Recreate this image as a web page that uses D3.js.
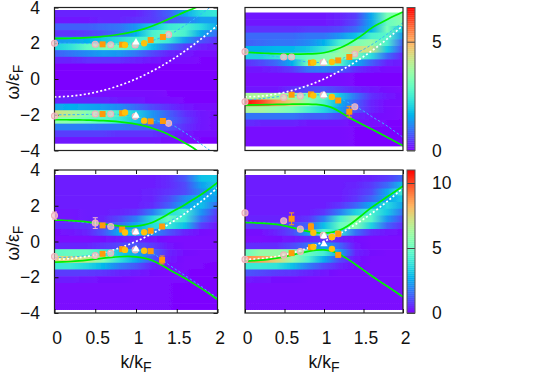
<!DOCTYPE html>
<html>
<head>
<meta charset="utf-8">
<style>
  html, body { margin: 0; background: #fff; }
  svg { display: block; }
  text { font-family: "Liberation Sans", Arial, sans-serif; fill: #111; }
</style>
<script src="https://cdn.jsdelivr.net/npm/d3@7"></script>
</head>
<body>
<div id="chart"></div>
<script>
// k samples of the intensity maps, one row per omega band (top to bottom)
const heatK = [0, 0.2, 0.4, 0.6, 0.8, 1.0, 1.2, 1.4, 1.6, 1.8, 2.0];

const heatA = [
  [0.3, 0.3, 0.3, 0.3, 0.3, 0.3, 0.5, 0.8, 1.5, 2.2, 2.4],
  [0.2, 0.2, 0.2, 0.3, 0.3, 0.4, 0.5, 0.7, 1.0, 1.4, 1.4],
  [0.8, 0.8, 0.8, 0.9, 1.0, 1.3, 1.9, 2.4, 2.6, 2.2, 1.5],
  [0.4, 0.4, 0.5, 0.7, 1.0, 1.6, 2.6, 3.0, 2.6, 1.5, 0.9],
  [1.3, 1.4, 1.6, 1.9, 2.2, 2.6, 2.8, 2.4, 1.4, 0.7, 0.4],
  [2.0, 2.3, 2.9, 3.2, 3.1, 2.6, 1.8, 1.0, 0.5, 0.3, 0.2],
  [0.8, 1.0, 1.2, 1.4, 1.3, 1.0, 0.6, 0.3, 0.2, 0.1, 0.1],
  [0.3, 0.3, 0.4, 0.4, 0.4, 0.3, 0.2, 0.1, 0.1, 0.05, 0.05],
  [0.05, 0.05, 0.05, 0.05, 0.05, 0.05, 0.05, 0.05, 0.05, 0.05, 0.05],
  [0.05, 0.05, 0.05, 0.05, 0.05, 0.05, 0.05, 0.05, 0.05, 0.05, 0.05],
  [0.05, 0.05, 0.05, 0.05, 0.05, 0.05, 0.05, 0.05, 0.05, 0.05, 0.05],
  [0.05, 0.05, 0.05, 0.05, 0.05, 0.05, 0.05, 0.05, 0.05, 0.05, 0.05],
  [0.1, 0.1, 0.1, 0.1, 0.1, 0.1, 0.1, 0.05, 0.05, 0.05, 0.05],
  [0.3, 0.3, 0.3, 0.3, 0.2, 0.2, 0.1, 0.1, 0.05, 0.05, 0.05],
  [1.5, 1.6, 1.5, 1.4, 1.2, 0.9, 0.6, 0.4, 0.2, 0.1, 0.1],
  [4.4, 4.0, 3.4, 3.0, 2.6, 2.0, 1.3, 0.8, 0.4, 0.2, 0.1],
  [3.5, 3.4, 3.1, 2.8, 2.4, 1.9, 1.3, 0.9, 0.5, 0.2, 0.1],
  [1.1, 1.1, 1.1, 1.0, 1.0, 0.9, 0.8, 0.7, 0.4, 0.2, 0.1],
  [0.5, 0.5, 0.5, 0.5, 0.4, 0.4, 0.4, 0.3, 0.2, 0.1, 0.1],
  [0.2, 0.2, 0.2, 0.2, 0.2, 0.2, 0.2, 0.1, 0.1, 0.05, 0.05]
];

const heatB = [
  [0.2, 0.2, 0.2, 0.2, 0.2, 0.2, 0.3, 0.5, 1.5, 3.2, 3.5],
  [0.2, 0.2, 0.2, 0.2, 0.2, 0.2, 0.3, 0.6, 1.5, 3.0, 3.4],
  [0.4, 0.4, 0.4, 0.4, 0.5, 0.5, 0.6, 0.9, 1.6, 3.2, 1.9],
  [0.9, 0.9, 0.9, 0.9, 1.0, 1.0, 1.3, 1.8, 2.6, 2.8, 1.3],
  [0.8, 0.9, 1.0, 1.0, 1.2, 1.6, 2.6, 3.2, 3.6, 2.6, 0.8],
  [1.6, 1.6, 1.7, 1.7, 1.9, 2.4, 3.5, 4.4, 4.2, 1.9, 0.6],
  [2.0, 2.0, 2.3, 2.6, 3.0, 3.3, 3.6, 3.3, 2.2, 0.9, 0.3],
  [0.4, 0.6, 0.9, 1.6, 3.2, 3.5, 2.8, 1.6, 0.8, 0.3, 0.2],
  [0.2, 0.2, 0.3, 0.5, 1.0, 1.1, 0.8, 0.4, 0.2, 0.1, 0.1],
  [0.1, 0.1, 0.1, 0.1, 0.1, 0.1, 0.1, 0.05, 0.05, 0.05, 0.05],
  [0.1, 0.1, 0.1, 0.1, 0.1, 0.1, 0.1, 0.05, 0.05, 0.05, 0.05],
  [0.2, 0.2, 0.2, 0.4, 0.6, 0.7, 0.5, 0.3, 0.2, 0.1, 0.05],
  [3.8, 3.9, 3.8, 3.6, 3.2, 2.9, 1.9, 1.0, 0.4, 0.2, 0.1],
  [6.5, 6.0, 5.2, 4.4, 3.5, 2.6, 1.6, 0.8, 0.3, 0.1, 0.1],
  [3.8, 3.8, 3.5, 3.2, 2.6, 2.1, 1.4, 0.7, 0.3, 0.1, 0.05],
  [1.0, 1.0, 1.0, 1.0, 0.8, 0.8, 0.6, 0.3, 0.15, 0.1, 0.05],
  [0.4, 0.3, 0.3, 0.3, 0.2, 0.2, 0.2, 0.1, 0.1, 0.05, 0.05],
  [0.1, 0.1, 0.1, 0.1, 0.1, 0.1, 0.1, 0.05, 0.05, 0.05, 0.05],
  [0.1, 0.1, 0.1, 0.1, 0.1, 0.1, 0.1, 0.05, 0.05, 0.05, 0.05],
  [0.1, 0.1, 0.1, 0.1, 0.1, 0.1, 0.1, 0.05, 0.05, 0.05, 0.05]
];

const heatC = [
  [0.4, 0.4, 0.4, 0.4, 0.4, 0.4, 0.4, 0.6, 1.2, 3.0, 3.2],
  [0.4, 0.4, 0.4, 0.4, 0.4, 0.4, 0.4, 0.6, 1.0, 2.4, 3.2],
  [0.4, 0.4, 0.4, 0.4, 0.4, 0.4, 0.5, 0.7, 1.0, 2.0, 2.8],
  [0.4, 0.4, 0.4, 0.4, 0.4, 0.4, 0.5, 1.0, 2.0, 2.8, 2.2],
  [0.4, 0.4, 0.4, 0.4, 0.4, 0.4, 0.6, 1.3, 2.5, 3.0, 1.5],
  [0.3, 0.3, 0.4, 0.4, 0.5, 0.7, 1.8, 3.6, 4.2, 2.2, 0.8],
  [0.3, 0.3, 0.4, 0.5, 1.0, 1.8, 3.6, 5.0, 4.0, 1.6, 0.6],
  [0.6, 0.6, 0.7, 0.9, 1.5, 2.6, 3.6, 4.0, 3.0, 0.9, 0.3],
  [0.2, 0.3, 0.5, 1.2, 2.6, 3.2, 2.2, 1.2, 0.5, 0.2, 0.1],
  [0.1, 0.1, 0.1, 0.2, 0.4, 0.6, 0.3, 0.1, 0.1, 0.1, 0.1],
  [0.5, 0.5, 0.5, 0.7, 1.0, 1.2, 0.8, 0.3, 0.1, 0.1, 0.1],
  [4.8, 5.0, 5.0, 4.2, 3.2, 2.6, 1.6, 0.5, 0.2, 0.1, 0.1],
  [7.5, 7.5, 7.0, 5.5, 3.8, 2.6, 1.2, 0.4, 0.1, 0.1, 0.1],
  [4.0, 4.0, 3.5, 2.8, 1.8, 1.2, 0.5, 0.2, 0.1, 0.1, 0.05],
  [0.8, 0.8, 0.8, 0.7, 0.5, 0.4, 0.2, 0.1, 0.1, 0.05, 0.05],
  [0.4, 0.4, 0.3, 0.2, 0.2, 0.1, 0.1, 0.1, 0.1, 0.05, 0.05],
  [0.1, 0.1, 0.1, 0.1, 0.1, 0.1, 0.1, 0.1, 0.05, 0.05, 0.05],
  [0.1, 0.1, 0.1, 0.1, 0.1, 0.1, 0.1, 0.1, 0.05, 0.05, 0.05],
  [0.1, 0.1, 0.1, 0.1, 0.1, 0.1, 0.1, 0.1, 0.05, 0.05, 0.05],
  [0.1, 0.1, 0.1, 0.1, 0.1, 0.1, 0.1, 0.1, 0.05, 0.05, 0.05]
];

const heatD = [
  [0.4, 0.4, 0.4, 0.4, 0.4, 0.4, 0.4, 0.4, 0.5, 0.8, 1.5],
  [0.4, 0.4, 0.4, 0.4, 0.4, 0.4, 0.4, 0.5, 0.8, 1.5, 3.0],
  [0.4, 0.4, 0.4, 0.4, 0.4, 0.4, 0.4, 0.6, 1.0, 2.5, 4.2],
  [0.4, 0.4, 0.4, 0.4, 0.4, 0.4, 0.4, 0.7, 1.4, 2.5, 3.2],
  [0.4, 0.4, 0.4, 0.4, 0.4, 0.4, 0.7, 1.4, 2.6, 3.6, 2.4],
  [0.4, 0.4, 0.4, 0.4, 0.4, 0.7, 1.8, 3.4, 4.4, 3.2, 1.6],
  [0.5, 0.5, 0.5, 0.5, 0.7, 1.8, 4.2, 6.0, 4.6, 2.2, 1.0],
  [0.8, 0.8, 0.8, 1.0, 1.4, 3.0, 5.0, 5.6, 3.4, 1.4, 0.6],
  [0.2, 0.2, 0.5, 1.0, 2.4, 4.6, 3.8, 1.6, 0.6, 0.3, 0.2],
  [0.1, 0.1, 0.2, 0.3, 0.6, 0.8, 0.5, 0.2, 0.1, 0.1, 0.1],
  [0.6, 0.6, 0.6, 1.0, 1.6, 2.4, 1.4, 0.3, 0.1, 0.1, 0.1],
  [5.0, 6.0, 6.0, 5.6, 5.0, 4.2, 2.4, 0.5, 0.2, 0.1, 0.1],
  [9.0, 8.6, 7.6, 6.0, 4.4, 2.6, 1.0, 0.3, 0.1, 0.1, 0.1],
  [4.0, 4.0, 3.8, 3.0, 1.8, 1.0, 0.5, 0.2, 0.1, 0.1, 0.1],
  [1.2, 1.0, 0.8, 0.7, 0.5, 0.3, 0.1, 0.1, 0.1, 0.1, 0.1],
  [0.4, 0.3, 0.2, 0.2, 0.1, 0.1, 0.1, 0.1, 0.1, 0.1, 0.1],
  [0.1, 0.1, 0.1, 0.1, 0.1, 0.1, 0.1, 0.1, 0.1, 0.1, 0.1],
  [0.1, 0.1, 0.1, 0.1, 0.1, 0.1, 0.1, 0.1, 0.1, 0.1, 0.1],
  [0.1, 0.1, 0.1, 0.1, 0.1, 0.1, 0.1, 0.1, 0.1, 0.1, 0.1],
  [0.1, 0.1, 0.1, 0.1, 0.1, 0.1, 0.1, 0.1, 0.1, 0.1, 0.1]
];

// omega extent of each map
const heatTop = [3.86, 3.72, 3.72, 3.72];
const heatBottom = [-3.62, -3.77, -3.83, -3.83];

// k samples of all the curves
const curveK = [0, 0.1, 0.2, 0.3, 0.4, 0.5, 0.6, 0.7, 0.8, 0.9, 1.0, 1.1, 1.2, 1.3, 1.4, 1.5, 1.6, 1.7, 1.8, 1.9, 2.0];

const freeBand = [-1, -0.99, -0.96, -0.91, -0.84, -0.75, -0.64, -0.51, -0.36, -0.19, 0, 0.21, 0.44, 0.69, 0.96, 1.25, 1.56, 1.89, 2.24, 2.61, 3];

const greenUpA = [2.27, 2.27, 2.28, 2.29, 2.31, 2.34, 2.38, 2.43, 2.5, 2.58, 2.68, 2.8, 2.96, 3.15, 3.35, 3.55, 3.76, 3.93, 4.12, 4.3, 4.5];
const greenLowA = [-2.28, -2.28, -2.28, -2.29, -2.3, -2.31, -2.33, -2.36, -2.4, -2.45, -2.52, -2.62, -2.75, -2.9, -3.1, -3.33, -3.58, -3.83, -4.2, -4.4, -4.6];
const dashUpA = [2, 2, 2, 1.99, 1.98, 1.97, 1.96, 1.95, 1.94, 1.94, 1.96, 2.0, 2.14, 2.3, 2.45, 2.7, 3.0, 3.3, 3.65, 3.97, 4.3];
const dashLowA = [-2, -2, -2, -1.99, -1.98, -1.97, -1.96, -1.95, -1.98, -2.05, -2.1, -2.2, -2.3, -2.38, -2.45, -2.7, -3, -3.3, -3.65, -3.97, -4.3];

const greenUpB = [1.49, 1.47, 1.45, 1.43, 1.41, 1.4, 1.39, 1.39, 1.4, 1.42, 1.45, 1.58, 1.72, 1.93, 2.2, 2.5, 2.87, 3.1, 3.33, 3.55, 3.75];
const greenLowB = [-1.46, -1.45, -1.44, -1.43, -1.42, -1.42, -1.41, -1.4, -1.4, -1.42, -1.46, -1.58, -1.82, -2.12, -2.35, -2.58, -2.8, -3.03, -3.25, -3.49, -3.73];
const dashUpB = [1.45, 1.4, 1.35, 1.3, 1.25, 1.2, 1.1, 1.0, 0.95, 0.92, 0.92, 0.98, 1.1, 1.25, 1.42, 1.65, 1.9, 2.2, 2.5, 2.85, 3.15];
const dashLowB = [-1.18, -1.15, -1.1, -1.05, -1, -0.95, -0.92, -0.9, -0.88, -0.88, -0.9, -0.97, -1.08, -1.3, -1.55, -1.78, -2.1, -2.35, -2.62, -2.95, -3.26];

const greenUpC = [1.2, 1.19, 1.17, 1.14, 1.1, 1.04, 0.98, 0.92, 0.86, 0.83, 0.85, 0.92, 1.05, 1.28, 1.55, 1.8, 2.05, 2.35, 2.62, 2.95, 3.3];
const greenLowC = [-1.15, -1.14, -1.12, -1.09, -1.04, -0.98, -0.93, -0.88, -0.85, -0.83, -0.85, -0.92, -1.05, -1.28, -1.55, -1.8, -2.05, -2.33, -2.62, -2.92, -3.25];
const dashUpC = [1.2, 1.18, 1.15, 1.1, 1.05, 0.98, 0.9, 0.8, 0.68, 0.58, 0.5, 0.5, 0.58, 0.82, 1.1, 1.35, 1.6, 1.88, 2.2, 2.6, 3.05];
const dashLowC = [-0.9, -0.89, -0.87, -0.84, -0.8, -0.75, -0.68, -0.6, -0.52, -0.47, -0.46, -0.5, -0.62, -0.95, -1.3, -1.6, -1.9, -2.2, -2.5, -2.85, -3.15];

const greenUpD = [1.06, 1.05, 1.03, 1, 0.96, 0.88, 0.78, 0.66, 0.56, 0.48, 0.45, 0.5, 0.62, 0.85, 1.18, 1.55, 1.9, 2.2, 2.5, 2.8, 3.1];
const greenLowD = [-1.1, -1.08, -1.05, -1, -0.94, -0.85, -0.75, -0.65, -0.55, -0.48, -0.45, -0.52, -0.72, -0.98, -1.28, -1.6, -1.92, -2.22, -2.5, -2.8, -3.1];
const dashUpD = [1.1, 1.09, 1.06, 1.03, 0.98, 0.9, 0.8, 0.68, 0.57, 0.46, 0.38, 0.4, 0.55, 0.85, 1.18, 1.52, 1.88, 2.2, 2.5, 2.8, 3.1];
const dashLowD = [-1.08, -1.06, -1.03, -0.98, -0.92, -0.83, -0.73, -0.63, -0.53, -0.46, -0.43, -0.5, -0.7, -0.96, -1.26, -1.58, -1.9, -2.2, -2.48, -2.78, -3.08];

// measured points, [k, omega]
const pinkA = [[0, 2.0], [0.5, 1.94], [0.69, 1.92], [0.99, 1.9], [1.4, 2.48], [0, -2.07], [0.5, -1.96], [0.69, -1.96], [0.99, -2.09], [1.4, -2.48]];
const squareA = [[0.59, 1.94], [0.83, 1.92], [1.18, 2.18], [1.33, 2.35], [0.59, -1.96], [0.83, -1.92], [1.18, -2.37], [1.33, -2.35]];
const goldA = [[0.865, 1.9], [1.1, 2.0], [0.865, -1.87], [1.1, -2.33]];
const triA = [[1, 2.05], [1, -2.05]];

const pinkB = [[0, 1.53], [0.49, 1.23], [0.59, 1.23], [0.99, 0.93], [1.39, 1.4], [0, -1.27], [0.49, -1.03], [0.7, -0.95], [0.99, -0.9], [1.39, -1.55]];
const squareB = [[0.835, 0.91], [1.18, 1.04], [1.32, 1.23], [0.59, -0.88], [0.835, -0.86], [1.18, -1.2], [1.32, -1.83]];
const goldB = [[0.865, 0.93], [1.1, 0.95], [0.865, -0.93], [1.1, -1.0]];
const triB = [[1, 0.93], [1, -0.9]];

const pinkC = [[0, 1.45], [0.5, 1.03], [0.69, 0.84], [0.99, 0.54], [0, -0.84], [0.5, -0.78], [0.69, -0.65], [0.99, -0.47]];
const squareC = [[0.59, 0.9], [0.83, 0.67], [1.18, 0.6], [1.32, 0.84], [0.59, -0.69], [0.83, -0.43], [1.18, -0.54], [1.32, -1.03]];
const goldC = [[0.865, 0.5], [1.1, 0.52], [0.865, -0.47], [1.1, -0.52]];
const triC = [[1, 0.52], [1, -0.43]];

const pinkD = [[0, 1.6], [0.49, 1.16], [0.7, 0.69], [0.99, 0.34], [1.1, 0.26], [1.18, 0.43], [0, -1.0], [0.49, -0.75], [0.7, -0.56]];
const squareD = [[0.59, 1.27], [0.835, 0.82], [1.18, 0.43], [0.59, -0.65], [0.835, -0.32], [1.18, -0.75]];
const goldD = [[0.865, 0.49], [1.1, 0.25], [0.865, -0.3], [1.1, -0.41]];
const triD = [[1, 0.3], [1, -0.15]];

// error bars, [k, omega, +-]
const errOrange = [[], [[1.32, -1.83, 0.3]], [[1.32, -1.03, 0.22]], [[0.59, 1.27, 0.33], [0.835, 0.82, 0.2]]];
const errPink = [[], [], [[0.5, 1.03, 0.3], [0, 1.45, 0.2]], []];

const kTicks = [0, 0.5, 1, 1.5, 2];
const wTicks = [-4, -2, 0, 2, 4];

const width = 545;
const height = 382;
const fontSize = 17.5;
const fontFamily = '"Liberation Sans", Arial, sans-serif';

const panels = [
  { left: 54.5, right: 217.5, top: 7.5, bottom: 150.5, heat: heatA, green: [greenUpA, greenLowA], dash: [dashUpA, dashLowA], pink: pinkA, square: squareA, gold: goldA, tri: triA, yTicks: true, xTicks: false },
  { left: 245, right: 403, top: 7.5, bottom: 150.5, heat: heatB, green: [greenUpB, greenLowB], dash: [dashUpB, dashLowB], pink: pinkB, square: squareB, gold: goldB, tri: triB, yTicks: false, xTicks: false },
  { left: 54.5, right: 217.5, top: 170, bottom: 313, heat: heatC, green: [greenUpC, greenLowC], dash: [dashUpC, dashLowC], pink: pinkC, square: squareC, gold: goldC, tri: triC, yTicks: true, xTicks: true },
  { left: 245, right: 403, top: 170, bottom: 313, heat: heatD, green: [greenUpD, greenLowD], dash: [dashUpD, dashLowD], pink: pinkD, square: squareD, gold: goldD, tri: triD, yTicks: false, xTicks: true }
];

const colorbars = [
  { top: 7.5, bottom: 150.5, max: 6.57, ticks: [0, 5] },
  { top: 170, bottom: 313, max: 11, ticks: [0, 5, 10] }
];

// gnuplot rgbformulae 33,13,10
const palette = (t) => {
  const r = Math.min(1, Math.abs(2 * t - 0.5));
  const g = Math.sin(Math.PI * t);
  const b = Math.max(0, Math.cos((Math.PI / 2) * t));
  return d3.rgb(r * 255, g * 255, b * 255).formatHex();
};

const errorBar = (x, y) => (d) => {
  const px = x(d[0]);
  return `M${px - 2.5},${y(d[1] + d[2])}H${px + 2.5}M${px},${y(d[1] + d[2])}V${y(d[1] - d[2])}M${px - 2.5},${y(d[1] - d[2])}H${px + 2.5}`;
};

const svg = d3
  .select('#chart')
  .append('svg')
  .attr('width', width)
  .attr('height', height)
  .attr('viewBox', [0, 0, width, height]);

const defs = svg.append('defs');

// soft band edges, the map was rescaled in the original
defs
  .append('filter')
  .attr('id', 'soft')
  .attr('x', '-2%')
  .attr('y', '-2%')
  .attr('width', '104%')
  .attr('height', '104%')
  .append('feGaussianBlur')
  .attr('stdDeviation', '0.5 0.6');

panels.forEach((p, i) => {
  const x = d3.scaleLinear().domain([0, 2]).range([p.left, p.right]);
  const y = d3.scaleLinear().domain([-4, 4]).range([p.bottom, p.top]);
  const colorMax = colorbars[i < 2 ? 0 : 1].max;
  const color = (v) => palette(Math.min(1, v / colorMax));
  const g = svg.append('g');

  defs
    .append('clipPath')
    .attr('id', `clip${i}`)
    .append('rect')
    .attr('x', p.left)
    .attr('y', p.top)
    .attr('width', p.right - p.left)
    .attr('height', p.bottom - p.top);

  // intensity map, every band is a rect with a gradient along k
  const rowH = (heatTop[i] - heatBottom[i]) / p.heat.length;
  p.heat.forEach((row, r) => {
    const grad = defs
      .append('linearGradient')
      .attr('id', `heat${i}-${r}`);
    grad
      .selectAll('stop')
      .data(row)
      .join('stop')
      .attr('offset', (d, c) => heatK[c] / 2)
      .attr('stop-color', (d) => color(d));
  });
  g.append('g')
    .attr('clip-path', `url(#clip${i})`)
    .append('g')
    .attr('filter', 'url(#soft)')
    .selectAll('rect')
    .data(p.heat)
    .join('rect')
    .attr('x', x(0))
    .attr('width', x(2) - x(0))
    .attr('y', (d, r) => y(heatTop[i] - r * rowH))
    .attr('height', (d, r) => y(0) - y(rowH) + (r < p.heat.length - 1 ? 0.6 : 0))
    .attr('fill', (d, r) => `url(#heat${i}-${r})`);

  const line = d3
    .line()
    .x((d, c) => x(curveK[c]))
    .y((d) => y(d))
    .curve(d3.curveBasis);

  const curves = g.append('g').attr('clip-path', `url(#clip${i})`).attr('fill', 'none');

  curves
    .selectAll('path.dash')
    .data(p.dash)
    .join('path')
    .attr('class', 'dash')
    .attr('d', line)
    .attr('stroke', '#35b4ff')
    .attr('stroke-width', 1)
    .attr('stroke-dasharray', '2.5 2');

  curves
    .append('path')
    .attr('d', line(freeBand))
    .attr('stroke', '#ffffff')
    .attr('stroke-width', 1.7)
    .attr('stroke-dasharray', '2 2.2');

  curves
    .selectAll('path.green')
    .data(p.green)
    .join('path')
    .attr('class', 'green')
    .attr('d', line)
    .attr('stroke', '#00f000')
    .attr('stroke-width', 1.7);

  // ticks stay inside the frame
  if (p.yTicks) {
    g.append('g')
      .attr('transform', `translate(${p.left},0)`)
      .call(d3.axisLeft(y).tickValues(wTicks).tickSizeInner(-4).tickSizeOuter(0).tickPadding(14.5));
    g.append('g')
      .attr('transform', `translate(${p.right},0)`)
      .call(d3.axisRight(y).tickValues(wTicks).tickSizeInner(-4).tickSizeOuter(0).tickFormat(''));
  }
  if (p.xTicks) {
    const bottomAxis = g
      .append('g')
      .attr('transform', `translate(0,${p.bottom})`)
      .call(d3.axisBottom(x).tickValues(kTicks).tickSizeInner(-4).tickSizeOuter(0).tickPadding(19).tickFormat(d3.format('~g')));
    bottomAxis.selectAll('text').attr('dx', 2);
    g.append('g')
      .attr('transform', `translate(0,${p.top})`)
      .call(d3.axisTop(x).tickValues(kTicks).tickSizeInner(-4).tickSizeOuter(0).tickFormat(''));
  }
  g.selectAll('.domain').remove();
  g.selectAll('.tick line').attr('stroke', '#111').attr('stroke-width', 1);
  g.selectAll('.tick text').attr('font-size', fontSize).style('font-family', fontFamily).attr('fill', '#111');

  g.append('rect')
    .attr('x', p.left)
    .attr('y', p.top)
    .attr('width', p.right - p.left)
    .attr('height', p.bottom - p.top)
    .attr('fill', 'none')
    .attr('stroke', '#222')
    .attr('stroke-width', 1.2);

  // measured points
  g.append('g')
    .selectAll('path')
    .data(errOrange[i])
    .join('path')
    .attr('d', errorBar(x, y))
    .attr('fill', 'none')
    .attr('stroke', '#ff9a1a')
    .attr('stroke-width', 1);

  g.append('g')
    .selectAll('path')
    .data(errPink[i])
    .join('path')
    .attr('d', errorBar(x, y))
    .attr('fill', 'none')
    .attr('stroke', '#f2b5cc')
    .attr('stroke-width', 1);

  g.append('g')
    .selectAll('circle')
    .data(p.pink)
    .join('circle')
    .attr('cx', (d) => x(d[0]))
    .attr('cy', (d) => y(d[1]))
    .attr('r', 3)
    .attr('fill', 'rgba(250,205,205,0.7)')
    .attr('stroke', '#f0b0bc')
    .attr('stroke-width', 1.1);

  g.append('g')
    .selectAll('path')
    .data(p.square)
    .join('path')
    .attr('transform', (d) => `translate(${x(d[0])},${y(d[1])})`)
    .attr('d', d3.symbol(d3.symbolSquare, 36))
    .attr('fill', '#ff9a0a');

  g.append('g')
    .selectAll('circle')
    .data(p.gold)
    .join('circle')
    .attr('cx', (d) => x(d[0]))
    .attr('cy', (d) => y(d[1]))
    .attr('r', 3.2)
    .attr('fill', '#ffc20a');

  g.append('g')
    .selectAll('path')
    .data(p.tri)
    .join('path')
    .attr('transform', (d) => `translate(${x(d[0])},${y(d[1])})`)
    .attr('d', d3.symbol(d3.symbolTriangle, 24))
    .attr('fill', '#ffffff');
});

// colour bars
colorbars.forEach((c) => {
  const barLeft = 407;
  const barRight = 415;
  const v = d3.scaleLinear().domain([0, c.max]).range([c.bottom, c.top]);
  const g = svg.append('g');
  const steps = d3.range(0, 72).map((s) => (s / 72) * c.max);
  g.append('g')
    .selectAll('rect')
    .data(steps)
    .join('rect')
    .attr('x', barLeft)
    .attr('width', barRight - barLeft)
    .attr('y', (d) => v(d + c.max / 72))
    .attr('height', (c.bottom - c.top) / 72 + 0.3)
    .attr('fill', (d) => palette((d + c.max / 144) / c.max));
  g.append('g')
    .attr('transform', `translate(${barRight},0)`)
    .call(d3.axisRight(v).tickValues(c.ticks).tickSizeInner(barLeft - barRight).tickSizeOuter(0).tickPadding(17).tickFormat(d3.format('d')));
  g.select('.domain').remove();
  g.selectAll('.tick line').attr('stroke', '#444').attr('stroke-width', 1);
  g.selectAll('.tick text').attr('font-size', fontSize).style('font-family', fontFamily).attr('fill', '#111');
  g.append('rect')
    .attr('x', barLeft)
    .attr('y', c.top)
    .attr('width', barRight - barLeft)
    .attr('height', c.bottom - c.top)
    .attr('fill', 'none')
    .attr('stroke', '#555')
    .attr('stroke-width', 1);
});

// axis titles
const addTitle = (transform, first) => {
  const t = svg
    .append('text')
    .attr('transform', transform)
    .attr('text-anchor', 'middle')
    .attr('font-size', fontSize);
  t.append('tspan').text(first);
  t.append('tspan').attr('font-size', fontSize * 0.8).attr('dy', 4).text('F');
};

addTitle('translate(19,82) rotate(-90)', 'ω/ε');
addTitle('translate(19,243) rotate(-90)', 'ω/ε');
addTitle('translate(136,368)', 'k/k');
addTitle('translate(324,368)', 'k/k');
</script>
</body>
</html>
